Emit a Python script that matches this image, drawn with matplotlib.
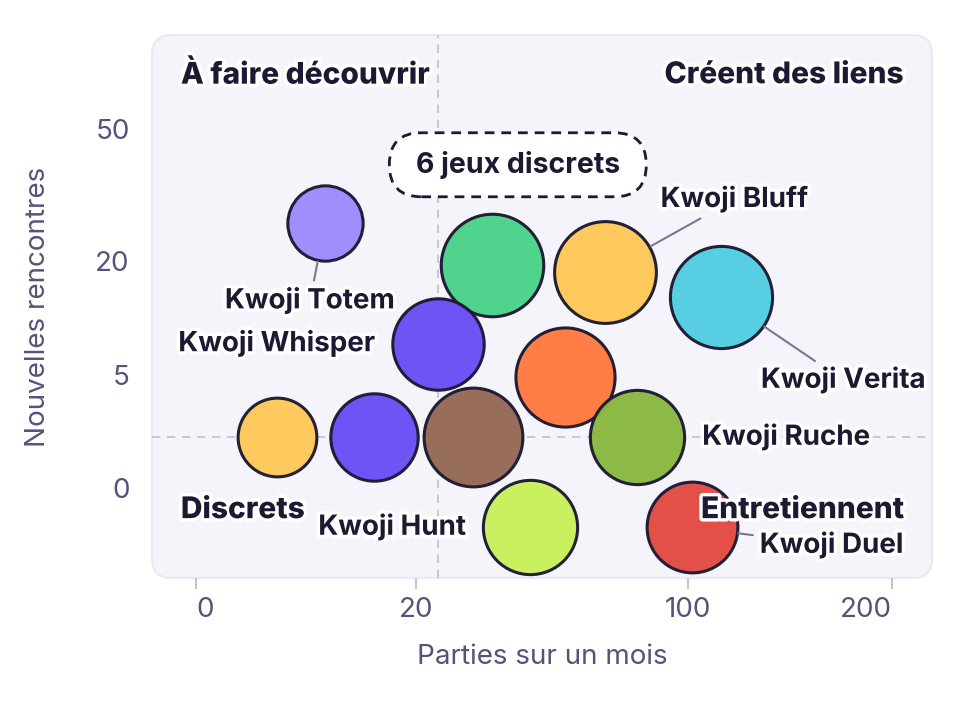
import numpy as np
import matplotlib
matplotlib.use("Agg")
import matplotlib.pyplot as plt
import matplotlib.patheffects as pe
from matplotlib.patches import FancyBboxPatch

# donnees
jeux = ["Kwoji Totem", "", "Kwoji Bluff", "Kwoji Verita", "Kwoji Whisper", "",
        "", "", "", "Kwoji Ruche", "Kwoji Hunt", "Kwoji Duel"]
parties = [6.9, 36.1, 69.1, 113.7, 24.2, 56.3, 2.7, 13.1, 31.8, 80.3, 46.2, 101.5]
rencontres = [27.3, 19.4, 18.2, 14.2, 8.1, 4.8, 1.0, 1.0, 1.0, 1.0, -0.6, -0.6]
taille = [15.0, 27.8, 27.4, 27.6, 22.1, 26.0, 16.4, 20.2, 25.8, 23.5, 23.5, 21.8]
couleurs = ["#a08afe", "#4ad28a", "#fec857", "#52cde2", "#6a4ff5", "#ff7a40",
            "#fec857", "#6a4ff5", "#956a55", "#8ab840", "#caf05a", "#e24b42"]
seuil_parties = 24.2
seuil_rencontres = 1.0
x_ticks = [0, 20, 100, 200]
y_ticks = [0, 5, 20, 50]

# position des etiquettes (decalage en points, alignement, trait)
etiq = {
    "Kwoji Totem": (-11, -56, "center", True),
    "Kwoji Whisper": (-45, 0, "right", False),
    "Kwoji Bluff": (40, 52, "left", True),
    "Kwoji Verita": (29, -60, "left", True),
    "Kwoji Ruche": (47, 0, "left", False),
    "Kwoji Hunt": (-46, 0, "right", False),
    "Kwoji Duel": (49, -13, "left", True),
}

ink = "#1c1a33"
gris = "#55537a"
halo = [pe.withStroke(linewidth=5, foreground="white")]

plt.rcParams['font.family'] = ['Inter', 'DejaVu Sans']


def fwd(v):
    return np.sign(v) * np.sqrt(np.abs(v))


def inv(v):
    return np.sign(v) * v ** 2


fig = plt.figure(figsize=(9.68, 7.2), dpi=100)
ax = fig.add_axes([152 / 968, 142 / 720, 780 / 968, 543 / 720])
ax.set_xscale('function', functions=(fwd, inv))
ax.set_yscale('function', functions=(fwd, inv))
ax.set_xlim(inv(-44 / 49.2), inv(736 / 49.2))
ax.set_ylim(inv(-90 / 50.7), inv(453 / 50.7))

for s in ax.spines.values():
    s.set_visible(False)
ax.patch.set_visible(False)
fond = FancyBboxPatch((0, 0), 1, 1, boxstyle="round,pad=0,rounding_size=0.025",
                      mutation_aspect=780 / 543, transform=ax.transAxes,
                      fc="#f5f4fa", ec="#eae9f3", lw=1.5, zorder=0, clip_on=False)
ax.add_patch(fond)

ax.set_xticks(x_ticks)
ax.set_xticklabels([str(t) for t in x_ticks])
ax.set_yticks(y_ticks)
ax.set_yticklabels([str(t) for t in y_ticks])
ax.minorticks_off()
ax.tick_params(axis='x', length=8, width=1.5, color="#c4c3d0", pad=6,
               labelsize=20, labelcolor=gris)
ax.tick_params(axis='y', length=0, pad=16, labelsize=20, labelcolor=gris)
xl = ax.get_xticklabels()
xl[0].set_ha('left')
xl[-1].set_ha('right')

ax.set_xlabel("Parties sur un mois", fontsize=20, color=gris, labelpad=15)
ax.set_ylabel("Nouvelles rencontres", fontsize=20, color=gris, labelpad=32)

ax.axvline(seuil_parties, color="#c0bfcc", lw=1.2, ls=(0, (5, 4)), zorder=1)
ax.axhline(seuil_rencontres, color="#c0bfcc", lw=1.2, ls=(0, (5, 4)), zorder=1)

for i in range(len(parties)):
    ax.scatter(parties[i], rencontres[i], s=taille[i] * 196, color=couleurs[i],
               edgecolor=ink, linewidth=2.2, alpha=0.97, zorder=3 + i * 0.01,
               clip_on=False)

for i in range(len(jeux)):
    nom = jeux[i]
    if nom == "":
        continue
    dx, dy, ha, trait = etiq[nom]
    rayon = np.sqrt(taille[i] * 196) / 2
    props = None
    if trait:
        props = dict(arrowstyle='-', color="#7a788f", lw=1.5,
                     shrinkA=2, shrinkB=rayon + 1)
    ax.annotate(nom, (parties[i], rencontres[i]), xytext=(dx, dy),
                textcoords='offset points', ha=ha, va='center',
                fontsize=20, fontweight='bold', color=ink, zorder=6,
                path_effects=halo, arrowprops=props,
                bbox=dict(boxstyle='square,pad=0.15', fc='none', ec='none'))

# quadrants
quad = dict(transform=ax.transAxes, va='center', fontsize=21.5,
            fontweight='heavy', color=ink, zorder=7, path_effects=halo)
ax.text(0.037, 0.926, "À faire découvrir", ha='left', **quad)
ax.text(0.963, 0.926, "Créent des liens", ha='right', **quad)
ax.text(0.037, 0.125, "Discrets", ha='left', **quad)
ax.text(0.963, 0.125, "Entretiennent", ha='right', **quad)

# encadre
bw, bh = 257 / 780, 64 / 543
cx, cy = 0.469, 0.761
boite = FancyBboxPatch((cx - bw / 2, cy - bh / 2), bw, bh,
                       boxstyle="round,pad=0,rounding_size=0.041",
                       mutation_aspect=780 / 543, transform=ax.transAxes,
                       fc="white", ec=ink, lw=2, ls=(0, (3.5, 2.5)), zorder=8)
ax.add_patch(boite)
ax.text(cx, cy, "6 jeux discrets", transform=ax.transAxes, ha='center',
        va='center', fontsize=20.5, fontweight='bold', color=ink, zorder=9)

fig.savefig("out.png", dpi=100)
